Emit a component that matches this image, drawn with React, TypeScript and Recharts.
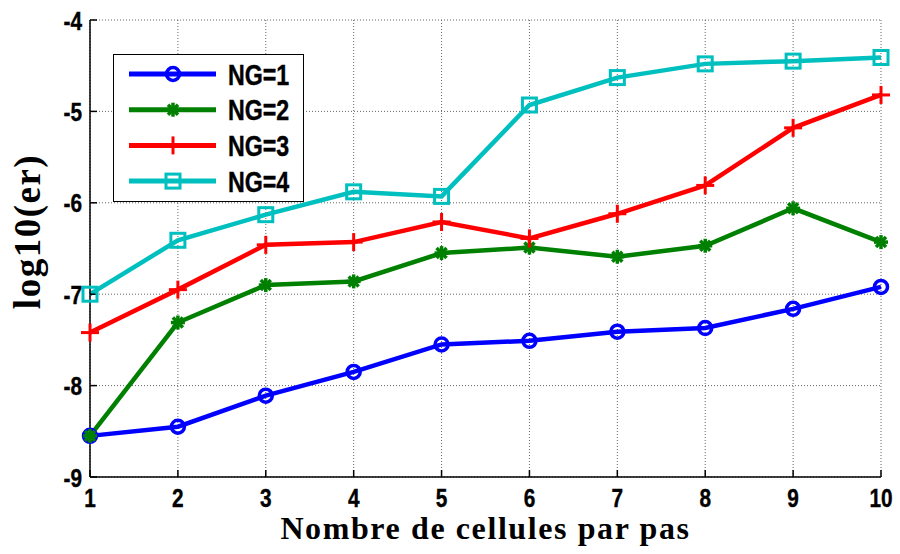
import {
  CartesianGrid,
  Label,
  Legend,
  Line,
  LineChart,
  XAxis,
  YAxis,
} from "recharts";

const cells = [1, 2, 3, 4, 5, 6, 7, 8, 9, 10];
const ng1 = [-8.55, -8.45, -8.11, -7.85, -7.55, -7.51, -7.41, -7.37, -7.16, -6.92];
const ng2 = [-8.55, -7.31, -6.9, -6.86, -6.55, -6.49, -6.59, -6.47, -6.06, -6.43];
const ng3 = [-7.42, -6.95, -6.46, -6.43, -6.21, -6.39, -6.12, -5.81, -5.18, -4.82];
const ng4 = [-7.0, -6.41, -6.13, -5.88, -5.93, -4.93, -4.63, -4.48, -4.45, -4.41];

const xTicks = [1, 2, 3, 4, 5, 6, 7, 8, 9, 10];
const yTicks = [-9, -8, -7, -6, -5, -4];

const series = [
  { key: "ng1", name: "NG=1", color: "#0000ff", shape: "circle" },
  { key: "ng2", name: "NG=2", color: "#008000", shape: "star" },
  { key: "ng3", name: "NG=3", color: "#ff0000", shape: "plus" },
  { key: "ng4", name: "NG=4", color: "#00bfbf", shape: "square" },
];

const data = cells.map((c, i) => ({
  cells: c,
  ng1: ng1[i],
  ng2: ng2[i],
  ng3: ng3[i],
  ng4: ng4[i],
}));

const sansBold = "'Liberation Sans', Arial, sans-serif";
const serif = "'Liberation Serif', 'Times New Roman', serif";

// Arial-narrow look: squeeze bold sans horizontally
function NarrowText({ x, y, anchor, dy, size, children }: any) {
  return (
    <g transform={`translate(${x},${y}) scale(0.8,1)`}>
      <text
        x={0}
        y={0}
        dy={dy}
        textAnchor={anchor}
        fontSize={size}
        fontWeight={700}
        fontFamily={sansBold}
        fill="#000"
        stroke="#000"
        strokeWidth={0.4}
      >
        {children}
      </text>
    </g>
  );
}

function XTick({ x, y, payload }: any) {
  return (
    <NarrowText x={x} y={y} anchor="middle" dy={18} size={26}>
      {payload.value}
    </NarrowText>
  );
}

function YTick({ x, y, payload }: any) {
  return (
    <NarrowText x={x} y={y} anchor="end" dy={9.5} size={26}>
      {payload.value}
    </NarrowText>
  );
}

function Marker({ shape, cx, cy, color }: any) {
  if (cx == null || cy == null) return null;
  if (shape === "circle")
    return <circle cx={cx} cy={cy} r={6.5} fill="none" stroke={color} strokeWidth={3.5} />;
  if (shape === "square")
    return (
      <rect x={cx - 7} y={cy - 7} width={14} height={14} fill="none" stroke={color} strokeWidth={3} />
    );
  if (shape === "plus")
    return (
      <g stroke={color} strokeWidth={3}>
        <line x1={cx - 9} y1={cy} x2={cx + 9} y2={cy} />
        <line x1={cx} y1={cy - 9} x2={cx} y2={cy + 9} />
      </g>
    );
  return (
    <g stroke={color} strokeWidth={3.5}>
      <line x1={cx - 7} y1={cy} x2={cx + 7} y2={cy} />
      <line x1={cx} y1={cy - 7} x2={cx} y2={cy + 7} />
      <line x1={cx - 5} y1={cy - 5} x2={cx + 5} y2={cy + 5} />
      <line x1={cx - 5} y1={cy + 5} x2={cx + 5} y2={cy - 5} />
    </g>
  );
}

function LegendBox({ payload }: any) {
  return (
    <div
      style={{
        boxSizing: "border-box",
        width: 191,
        height: 148,
        border: "1.5px solid #000",
        background: "#fff",
      }}
    >
      <svg width={188} height={145}>
        {(payload || []).map((p: any, i: number) => {
          const s = series.find((x) => x.name === p.value) || series[i];
          const y = 19 + i * 35.7;
          return (
            <g key={p.value}>
              <line x1={15} y1={y} x2={102} y2={y} stroke={s.color} strokeWidth={5} />
              <Marker shape={s.shape} cx={59} cy={y} color={s.color} />
              <NarrowText x={114} y={y} anchor="start" dy={10.5} size={29}>
                {p.value}
              </NarrowText>
            </g>
          );
        })}
      </svg>
    </div>
  );
}

export default function App() {
  return (
    <div style={{ position: "absolute", left: 0, top: 0, background: "#fff" }}>
      <LineChart
        width={900}
        height={554}
        data={data}
        margin={{ top: 20, right: 19, left: 0, bottom: 0 }}
      >
        <CartesianGrid stroke="#666" strokeDasharray="1 2" />
        <XAxis
          dataKey="cells"
          type="number"
          domain={[1, 10]}
          ticks={xTicks}
          height={77}
          tickSize={-7}
          tickMargin={19}
          stroke="#000"
          strokeWidth={1.5}
          tick={<XTick />}
        >
          <Label
            content={({ viewBox }: any) => (
              <text
                x={viewBox.x + viewBox.width / 2}
                y={viewBox.y + 62}
                textAnchor="middle"
                fontSize={32}
                fontWeight={700}
                fontFamily={serif}
                letterSpacing={1.6}
                fill="#000"
              >
                Nombre de cellules par pas
              </text>
            )}
          />
        </XAxis>
        <XAxis
          xAxisId="top"
          orientation="top"
          type="number"
          domain={[1, 10]}
          ticks={xTicks}
          height={0}
          tickSize={-7}
          tick={false}
          allowDataOverflow
          stroke="#000"
          strokeWidth={1.5}
        />
        <YAxis
          type="number"
          domain={[-9, -4]}
          ticks={yTicks}
          width={90}
          tickSize={-7}
          tickMargin={15}
          stroke="#000"
          strokeWidth={1.5}
          tick={<YTick />}
        >
          <Label
            content={({ viewBox }: any) => {
              const cx = 40;
              const cy = viewBox.y + viewBox.height / 2 - 17;
              return (
                <text
                  x={cx}
                  y={cy}
                  transform={`rotate(-90 ${cx} ${cy})`}
                  textAnchor="middle"
                  fontSize={37}
                  fontWeight={700}
                  fontFamily={serif}
                  letterSpacing={1.5}
                  fill="#000"
                >
                  log10(er)
                </text>
              );
            }}
          />
        </YAxis>
        <YAxis
          yAxisId="right"
          orientation="right"
          type="number"
          domain={[-9, -4]}
          ticks={yTicks}
          width={0}
          tickSize={-7}
          tick={false}
          allowDataOverflow
          stroke="#000"
          strokeWidth={1.5}
        />
        <Legend
          layout="vertical"
          align="center"
          verticalAlign="middle"
          content={<LegendBox />}
          wrapperStyle={{ position: "absolute", left: 113, top: 54, width: 191, height: 148 }}
        />
        {series.map((s) => (
          <Line
            key={s.key}
            dataKey={s.key}
            name={s.name}
            stroke={s.color}
            strokeWidth={4.5}
            isAnimationActive={false}
            dot={(p: any) => (
              <Marker
                key={`${s.key}-${p.index}`}
                shape={s.shape}
                cx={p.cx}
                cy={p.cy}
                color={s.color}
              />
            )}
            activeDot={false}
          />
        ))}
      </LineChart>
    </div>
  );
}
